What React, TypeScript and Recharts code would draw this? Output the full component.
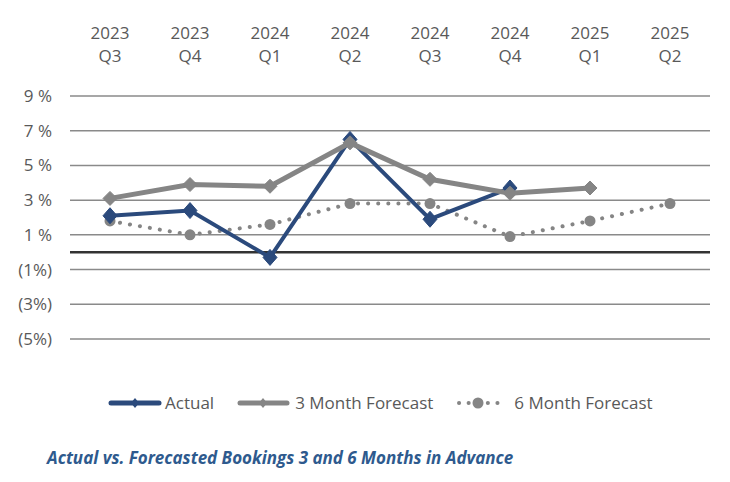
import React from 'react';
import { LineChart, Line, XAxis, YAxis, CartesianGrid, ReferenceLine, Legend } from 'recharts';

const years = ['2023', '2023', '2024', '2024', '2024', '2024', '2025', '2025'];
const quarters = ['Q3', 'Q4', 'Q1', 'Q2', 'Q3', 'Q4', 'Q1', 'Q2'];
const actual = [2.1, 2.4, -0.3, 6.5, 1.9, 3.7, null, null];
const threeMonth = [3.1, 3.9, 3.8, 6.3, 4.2, 3.4, 3.7, null];
const sixMonth = [1.8, 1.0, 1.6, 2.8, 2.8, 0.9, 1.8, 2.8];
const yTicks = [-5, -3, -1, 1, 3, 5, 7, 9];

const data = years.map((y, i) => ({
  cat: `${y} ${quarters[i]}`,
  actual: actual[i],
  threeMonth: threeMonth[i],
  sixMonth: sixMonth[i],
}));

const FONT = '"Open Sans", sans-serif';
const TEXT = '#595959';
const BLUE = '#2B4A7C';
const GRAY = '#858585';

const fmtPct = (v: number) => (v < 0 ? `(${-v}%)` : `${v} %`);

const TopTick = (props: any) => {
  const { x, y, index } = props;
  return (
    <g>
      <text x={x} y={y - 49} textAnchor="middle" fill={TEXT} fontSize={17} fontFamily={FONT}>
        {years[index]}
      </text>
      <text x={x} y={y - 26} textAnchor="middle" fill={TEXT} fontSize={17} fontFamily={FONT}>
        {quarters[index]}
      </text>
    </g>
  );
};

const diamond = (color: string, w: number, h: number) => (props: any) => {
  const { cx, cy, index } = props;
  if (cx == null || cy == null || props.value == null) return <g key={`d${index}`} />;
  return (
    <path
      key={`d${index}`}
      d={`M${cx},${cy - h} L${cx + w},${cy} L${cx},${cy + h} L${cx - w},${cy} Z`}
      fill={color}
      stroke={color}
      strokeWidth={1}
    />
  );
};

const LegendContent = () => (
  <div style={{ display: 'flex', alignItems: 'center', fontFamily: FONT, fontSize: 17, color: TEXT, whiteSpace: 'nowrap' }}>
    <svg width={54} height={14}>
      <line x1={3} y1={7} x2={51} y2={7} stroke={BLUE} strokeWidth={5} strokeLinecap="round" />
      <path d="M27,2 L31,7 L27,12 L23,7 Z" fill={BLUE} />
    </svg>
    <span style={{ marginLeft: 3, marginRight: 23 }}>Actual</span>
    <svg width={53} height={14}>
      <line x1={3} y1={7} x2={50} y2={7} stroke={GRAY} strokeWidth={5} strokeLinecap="round" />
      <path d="M26,2 L30,7 L26,12 L22,7 Z" fill={GRAY} />
    </svg>
    <span style={{ marginLeft: 5, marginRight: 23 }}>3 Month Forecast</span>
    <svg width={47} height={14}>
      <line x1={3} y1={7} x2={45} y2={7} stroke={GRAY} strokeWidth={4} strokeLinecap="round" strokeDasharray="0.1 9.5" />
      <circle cx={22} cy={7} r={5.5} fill={GRAY} />
    </svg>
    <span style={{ marginLeft: 11 }}>6 Month Forecast</span>
  </div>
);

export default function App() {
  return (
    <div style={{ position: 'absolute', left: 0, top: 0, width: 730, height: 482, background: '#fff' }}>
      <LineChart width={730} height={482} data={data} margin={{ top: 16, right: 20, left: 0, bottom: 120 }}>
        <CartesianGrid vertical={false} stroke="#8a8a8a" strokeWidth={1.5} />
        <XAxis
          dataKey="cat"
          orientation="top"
          height={80}
          axisLine={false}
          tickLine={false}
          tick={<TopTick />}
          interval={0}
          padding={{ left: 40, right: 40 }}
        />
        <YAxis
          type="number"
          domain={[-5, 9]}
          ticks={yTicks}
          width={70}
          axisLine={false}
          tickLine={false}
          tickSize={0}
          tickMargin={18}
          tickFormatter={fmtPct}
          tick={{ fill: TEXT, fontSize: 17, fontFamily: FONT }}
        />
        <ReferenceLine y={0} stroke="#333" strokeWidth={2.5} />
        <Line
          dataKey="sixMonth"
          stroke={GRAY}
          strokeWidth={4}
          strokeDasharray="0.1 10"
          strokeLinecap="round"
          dot={{ r: 5.5, fill: GRAY, stroke: GRAY, strokeWidth: 0 }}
          isAnimationActive={false}
        />
        <Line
          dataKey="actual"
          stroke={BLUE}
          strokeWidth={4}
          dot={diamond(BLUE, 7, 8)}
          isAnimationActive={false}
        />
        <Line
          dataKey="threeMonth"
          stroke={GRAY}
          strokeWidth={5}
          dot={diamond(GRAY, 7, 7)}
          isAnimationActive={false}
        />
        <Legend
          content={<LegendContent />}
          wrapperStyle={{ position: 'absolute', left: 108, top: 391, width: 'auto' }}
        />
      </LineChart>
      <div
        style={{
          position: 'absolute',
          left: 47,
          top: 446,
          fontFamily: FONT,
          fontSize: 17,
          fontWeight: 700,
          fontStyle: 'italic',
          color: '#2E5A8E',
          whiteSpace: 'nowrap',
        }}
      >
        Actual vs. Forecasted Bookings 3 and 6 Months in Advance
      </div>
    </div>
  );
}
